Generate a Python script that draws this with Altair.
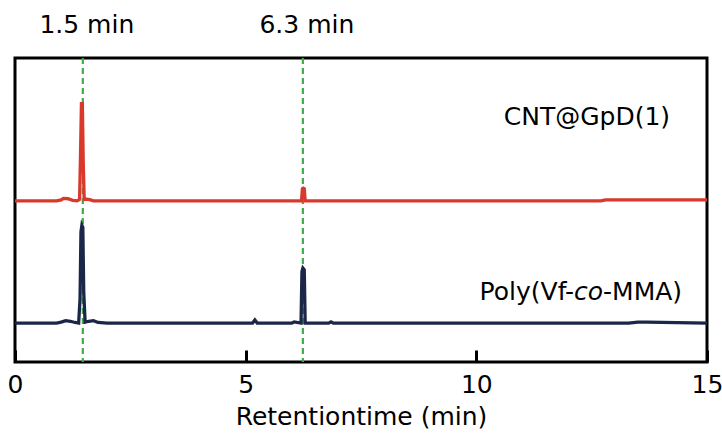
import altair as alt
import pandas as pd

# CNT@GpD(1) trace (retention time in min, detector signal, arbitrary units)
red_t = [0, 0.9, 1.0, 1.05, 1.15, 1.25, 1.35, 1.40, 1.42, 1.44, 1.46, 1.48, 1.50, 1.55, 1.62, 1.7,
         2.0, 4.0, 6.0, 6.21, 6.23, 6.25, 6.27, 6.29, 6.4, 9.0, 12.7, 12.8, 15.0]
red_v = [0, 0, 0.3, 0.8, 0.7, 0.2, 0, 0.5, 15, 32, 32, 12, 0.5, 0.6, 0.4, 0,
         0, 0, 0, 0, 4.0, 4.2, 4.0, 0, 0, 0, 0, 0.3, 0.3]
red_offset = 53.0

# Poly(Vf-co-MMA) trace
blue_t = [0, 0.9, 1.0, 1.1, 1.2, 1.3, 1.38, 1.41, 1.43, 1.45, 1.47, 1.49, 1.52, 1.6, 1.7, 1.8,
          2.0, 3.0, 5.15, 5.2, 5.25, 6.0, 6.05, 6.2, 6.22, 6.24, 6.27, 6.29, 6.35, 6.8, 6.85,
          6.9, 13.3, 13.5, 13.7, 15.0]
blue_v = [0, 0, 0.3, 0.8, 0.6, 0.2, 0, 8, 30, 32.2, 31.5, 10, 0.3, 0.6, 0.8, 0.2,
          0, 0, 0, 1.0, 0, 0, 0.4, 0, 17, 18.1, 17.5, 0, 0, 0, 0.4,
          0, 0, 0.3, 0.3, 0]
blue_offset = 12.8

peak_times = [1.47, 6.24]
peak_labels = ["1.5 min", "6.3 min"]
x_ticks = [0, 5, 10, 15]

FONT = "DejaVu Sans"
FS = 25

df = pd.DataFrame(
    {"t": red_t + blue_t,
     "v": [v + red_offset for v in red_v] + [v + blue_offset for v in blue_v],
     "s": ["CNT@GpD(1)"] * len(red_t) + ["Poly(Vf-co-MMA)"] * len(blue_t)}
)
df["order"] = range(len(df))

xs = alt.Scale(domain=[0, 15], nice=False, zero=False)
ys = alt.Scale(domain=[0, 100], nice=False, zero=False)

xaxis = alt.Axis(values=x_ticks, grid=False, domain=False, offset=-12, tickSize=12,
                 tickWidth=3, tickColor="black", labelFontSize=FS, labelColor="black",
                 labelFont=FONT, labelPadding=10, labelFlush=False,
                 title="Retentiontime (min)", titleFontSize=FS, titleFont=FONT,
                 titleFontWeight="normal", titleColor="black", titlePadding=7)

lines = alt.Chart(df).mark_line(strokeWidth=3.3, clip=False).encode(
    x=alt.X("t:Q", scale=xs, axis=xaxis),
    y=alt.Y("v:Q", scale=ys, axis=None),
    color=alt.Color("s:N", scale=alt.Scale(domain=["CNT@GpD(1)", "Poly(Vf-co-MMA)"],
                                           range=["#d8392b", "#1b2749"]), legend=None),
    order="order:Q",
)

pk = pd.DataFrame({"t": peak_times, "lab": peak_labels})
rules = alt.Chart(pk).mark_rule(color="#3fae49", strokeWidth=2.2, strokeDash=[6, 4]).encode(
    x=alt.X("t:Q", scale=xs)
)
toplabels = alt.Chart(pk).mark_text(font=FONT, fontSize=FS, color="black", baseline="middle",
                                    align="center", dx=4).encode(
    x=alt.X("t:Q", scale=xs), y=alt.value(-33), text="lab:N"
)

lab1 = pd.DataFrame({"t": [14.2], "v": [80.6], "txt": ["CNT@GpD(1)"]})
name1 = alt.Chart(lab1).mark_text(font=FONT, fontSize=FS, color="black", align="right",
                                  baseline="middle").encode(
    x=alt.X("t:Q", scale=xs), y=alt.Y("v:Q", scale=ys), text="txt:N")

lab2 = pd.DataFrame({"t": [14.46], "v": [23.0]})
p_a = alt.Chart(lab2).mark_text(font=FONT, fontSize=FS, color="black", align="right",
                                baseline="middle", dx=0, text="-MMA)").encode(
    x=alt.X("t:Q", scale=xs), y=alt.Y("v:Q", scale=ys))
p_b = alt.Chart(lab2).mark_text(font=FONT, fontSize=FS, color="black", align="right",
                                baseline="middle", dx=-79, text="co", fontStyle="italic").encode(
    x=alt.X("t:Q", scale=xs), y=alt.Y("v:Q", scale=ys))
p_c = alt.Chart(lab2).mark_text(font=FONT, fontSize=FS, color="black", align="right",
                                baseline="middle", dx=-108, text="Poly(Vf-").encode(
    x=alt.X("t:Q", scale=xs), y=alt.Y("v:Q", scale=ys))

chart = alt.layer(rules, lines, toplabels, name1, p_a, p_b, p_c).properties(
    width=692, height=304,
    autosize=alt.AutoSizeParams(type="none"),
    padding={"left": 15, "top": 58, "right": 15, "bottom": 71},
    background="white",
).configure_view(stroke="black", strokeWidth=3)

chart.save("out.html", embed_options={"renderer": "svg", "actions": False})
